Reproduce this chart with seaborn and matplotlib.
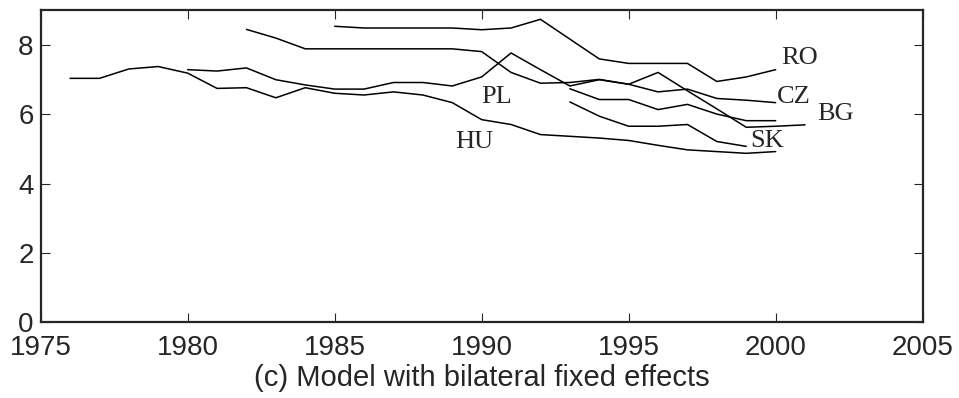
"""Model with bilateral fixed effects — estimated series per country, 1976-2001."""

import matplotlib

matplotlib.use("Agg")
import matplotlib.pyplot as plt
import pandas as pd
import seaborn as sns

# series
HU_YEARS = list(range(1976, 2001))
HU_VALUES = [7.03, 7.03, 7.30, 7.37, 7.18, 6.74, 6.76, 6.47, 6.76, 6.60,
             6.55, 6.64, 6.55, 6.33, 5.84, 5.70, 5.41, 5.36, 5.31, 5.24,
             5.10, 4.97, 4.92, 4.87, 4.92]

BG_YEARS = list(range(1980, 2002))
BG_VALUES = [7.28, 7.24, 7.33, 6.99, 6.84, 6.72, 6.72, 6.91, 6.91, 6.81,
             7.07, 7.76, 7.28, 6.81, 6.99, 6.86, 7.20, 6.67, 6.15, 5.62,
             5.65, 5.69]

CZ_YEARS = list(range(1982, 2001))
CZ_VALUES = [8.44, 8.19, 7.88, 7.88, 7.88, 7.88, 7.88, 7.88, 7.80, 7.20,
             6.89, 6.91, 7.00, 6.86, 6.64, 6.72, 6.45, 6.40, 6.33]

RO_YEARS = list(range(1985, 2001))
RO_VALUES = [8.53, 8.48, 8.48, 8.48, 8.48, 8.43, 8.48, 8.73, 8.16, 7.59,
             7.46, 7.46, 7.46, 6.94, 7.07, 7.28]

PL_YEARS = list(range(1993, 2001))
PL_VALUES = [6.73, 6.42, 6.42, 6.13, 6.28, 6.00, 5.81, 5.81]

SK_YEARS = list(range(1993, 2000))
SK_VALUES = [6.35, 5.94, 5.65, 5.65, 5.70, 5.21, 5.07]

SERIES = {
    "HU": (HU_YEARS, HU_VALUES),
    "BG": (BG_YEARS, BG_VALUES),
    "CZ": (CZ_YEARS, CZ_VALUES),
    "RO": (RO_YEARS, RO_VALUES),
    "PL": (PL_YEARS, PL_VALUES),
    "SK": (SK_YEARS, SK_VALUES),
}

# label text and where it sits (year, value)
LABELS = ["RO", "CZ", "BG", "SK", "PL", "HU"]
LABEL_POS = [(2000.2, 7.62), (2000.05, 6.48), (2001.4, 5.99),
             (1999.15, 5.23), (1990.0, 6.48), (1989.1, 5.19)]

X_TICKS = [1975, 1980, 1985, 1990, 1995, 2000, 2005]
Y_TICKS = [0, 2, 4, 6, 8]
XLABEL = "(c) Model with bilateral fixed effects"


def main() -> None:
    sns.set_style("ticks")
    plt.rcParams["font.family"] = ["Liberation Sans", "DejaVu Sans"]
    plt.rcParams["xtick.direction"] = "in"
    plt.rcParams["ytick.direction"] = "in"

    df = pd.concat(
        [pd.DataFrame({"year": yrs, "value": vals, "country": name})
         for name, (yrs, vals) in SERIES.items()],
        ignore_index=True,
    )

    fig = plt.figure(figsize=(9.59, 3.98), dpi=100)
    ax = fig.add_axes([0.0424, 0.190, 0.9197, 0.785])

    sns.lineplot(
        data=df, x="year", y="value", hue="country", units="country",
        estimator=None, palette={c: "black" for c in SERIES},
        linewidth=1.1, legend=False, ax=ax,
    )

    for text, (x, y) in zip(LABELS, LABEL_POS):
        ax.text(x, y, text, ha="left", va="center", fontsize=19,
                family=["Liberation Serif", "DejaVu Serif"])

    ax.set_xlim(1975, 2005)
    ax.set_ylim(0, 9)
    ax.set_xticks(X_TICKS)
    ax.set_yticks(Y_TICKS)
    ax.tick_params(axis="both", labelsize=20, length=6.5, width=0.8,
                   top=True, right=True)
    ax.tick_params(axis="x", pad=9)
    ax.tick_params(axis="y", pad=5)
    for s in ax.spines.values():
        s.set_linewidth(1.6)
        s.set_visible(True)
    ax.set_xlabel(XLABEL, fontsize=21, labelpad=2)
    ax.set_ylabel("")

    fig.savefig("out.png", dpi=100)
    plt.close(fig)


if __name__ == "__main__":
    main()
